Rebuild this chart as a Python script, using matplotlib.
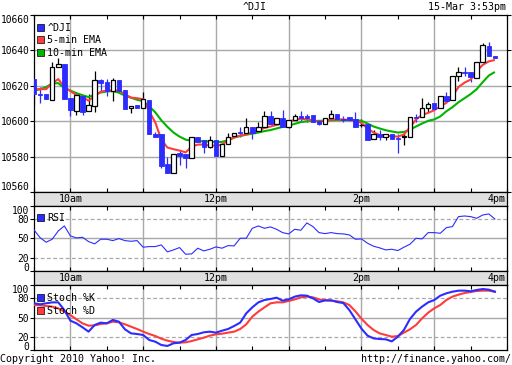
import matplotlib
matplotlib.use('Agg')
import matplotlib.pyplot as plt
from matplotlib.patches import Patch
import numpy as np

plt.rcParams['font.family'] = ['DejaVu Sans Mono', 'DejaVu Sans']
FS = 7.2
FS_Y = 6.9

# ---------------- data ----------------
n_candles = 77                       # 5-minute candles from 9:30
candle_minutes = np.arange(n_candles) * 5   # minutes after 9:30

opens = [10623.8, 10615.6, 10615.3, 10611.9, 10630.7, 10632.4, 10613.0, 10605.6, 10614.1, 10605.6,
         10608.4, 10623.2, 10622.1, 10617.0, 10623.2, 10617.5, 10607.3, 10609.0, 10607.3, 10611.9,
         10593.0, 10592.5, 10575.9, 10570.8, 10582.2, 10581.6, 10579.4, 10591.3, 10589.6, 10585.6,
         10589.6, 10580.5, 10587.3, 10591.9, 10593.7, 10593.6, 10596.5, 10594.2, 10597.0, 10602.7,
         10598.2, 10601.6, 10597.0, 10600.5, 10602.7, 10602.7, 10603.3, 10599.9, 10598.2, 10601.6,
         10603.9, 10601.0, 10602.2, 10601.0, 10597.6, 10598.2, 10590.2, 10593.0, 10591.3, 10593.0,
         10590.5, 10590.8, 10591.3, 10602.4, 10602.2, 10607.3, 10610.1, 10607.3, 10614.1, 10611.9,
         10625.5, 10627.8, 10627.8, 10624.4, 10633.5, 10642.6, 10636.6]
highs = [10623.8, 10619.3, 10615.3, 10633.5, 10635.8, 10632.4, 10613.0, 10616.4, 10614.1, 10615.3,
         10628.4, 10623.8, 10623.8, 10624.4, 10623.2, 10617.5, 10608.4, 10609.0, 10616.4, 10611.9,
         10594.0, 10592.5, 10579.9, 10581.6, 10583.9, 10581.6, 10591.3, 10591.3, 10589.6, 10591.9,
         10589.6, 10587.3, 10593.6, 10593.6, 10597.0, 10601.6, 10596.5, 10599.3, 10605.6, 10605.6,
         10601.6, 10606.2, 10600.5, 10603.9, 10605.6, 10603.9, 10603.3, 10599.9, 10601.6, 10606.2,
         10603.9, 10602.7, 10602.2, 10605.0, 10601.0, 10598.2, 10594.8, 10594.8, 10593.0, 10593.0,
         10593.0, 10593.6, 10602.2, 10603.9, 10613.0, 10610.7, 10610.1, 10614.1, 10616.4, 10625.5,
         10630.7, 10630.7, 10627.8, 10633.5, 10644.3, 10644.9, 10636.6]
lows = [10609.0, 10610.1, 10612.4, 10611.9, 10630.7, 10612.4, 10602.7, 10603.3, 10603.3, 10605.6,
        10605.0, 10616.4, 10614.1, 10611.3, 10617.0, 10606.7, 10604.4, 10607.3, 10607.3, 10592.5,
        10590.8, 10573.7, 10570.8, 10570.8, 10575.4, 10573.7, 10579.4, 10588.5, 10582.2, 10585.1,
        10580.5, 10580.1, 10587.3, 10591.9, 10591.3, 10593.6, 10590.2, 10594.2, 10597.0, 10598.2,
        10598.2, 10597.0, 10596.4, 10600.5, 10599.3, 10599.3, 10599.3, 10597.6, 10598.2, 10601.6,
        10601.0, 10599.3, 10600.5, 10597.0, 10597.0, 10589.1, 10590.2, 10589.1, 10589.1, 10590.2,
        10582.2, 10586.8, 10590.8, 10599.3, 10602.2, 10605.0, 10606.7, 10607.3, 10611.3, 10611.9,
        10622.7, 10625.5, 10622.1, 10624.4, 10633.5, 10636.9, 10635.8]
closes = [10615.3, 10614.7, 10612.4, 10630.7, 10632.4, 10612.4, 10606.2, 10614.7, 10605.0, 10609.0,
          10623.2, 10621.5, 10617.0, 10623.2, 10617.0, 10606.7, 10608.4, 10607.3, 10612.4, 10592.5,
          10591.3, 10574.8, 10570.8, 10581.6, 10580.5, 10579.4, 10591.3, 10588.5, 10585.6, 10589.6,
          10580.5, 10587.3, 10591.3, 10593.6, 10593.3, 10596.5, 10593.6, 10597.0, 10602.7, 10598.2,
          10601.6, 10597.0, 10600.5, 10602.7, 10601.9, 10602.0, 10599.3, 10598.7, 10601.6, 10603.9,
          10601.0, 10600.6, 10600.5, 10597.0, 10597.6, 10589.6, 10592.5, 10591.3, 10593.0, 10590.2,
          10589.9, 10591.9, 10602.2, 10601.9, 10607.3, 10609.6, 10606.7, 10614.1, 10611.3, 10625.5,
          10627.8, 10627.2, 10625.0, 10633.5, 10643.2, 10636.9, 10635.8]

ema5 = [10618.1, 10618.1, 10618.1, 10621.5, 10623.8, 10619.3, 10617.0, 10614.7, 10613.6, 10611.6,
        10614.1, 10616.7, 10617.3, 10617.5, 10617.3, 10615.3, 10613.3, 10613.0, 10612.4, 10605.6,
        10599.3, 10589.6, 10585.1, 10584.2, 10583.4, 10582.4, 10585.6, 10586.8, 10586.8, 10586.2,
        10586.2, 10586.8, 10589.1, 10590.8, 10591.9, 10592.5, 10593.8, 10594.8, 10596.2, 10597.0,
        10597.9, 10598.7, 10599.9, 10600.7, 10601.4, 10601.0, 10600.5, 10599.6, 10600.5, 10600.9,
        10601.0, 10601.0, 10600.6, 10600.2, 10599.0, 10595.9, 10593.6, 10592.2, 10591.9, 10591.5,
        10591.3, 10592.5, 10596.5, 10601.0, 10603.6, 10604.7, 10606.2, 10608.4, 10610.4, 10614.1,
        10619.3, 10621.8, 10623.5, 10628.4, 10631.8, 10633.8, 10634.6]
ema10 = [10617.2, 10618.1, 10619.3, 10621.3, 10621.5, 10618.7, 10617.3, 10615.8, 10614.7, 10613.6,
         10615.0, 10616.2, 10616.8, 10617.0, 10616.1, 10614.4, 10613.3, 10612.1, 10611.3, 10608.4,
         10605.0, 10600.5, 10596.8, 10593.6, 10591.3, 10589.6, 10588.9, 10588.7, 10588.7, 10588.5,
         10588.2, 10588.3, 10589.3, 10590.8, 10591.6, 10592.4, 10592.9, 10593.6, 10594.4, 10595.0,
         10595.9, 10596.8, 10597.6, 10598.5, 10599.5, 10599.9, 10600.1, 10600.2, 10600.3, 10600.5,
         10600.6, 10600.6, 10600.6, 10600.6, 10600.2, 10598.7, 10597.0, 10595.9, 10594.9, 10594.2,
         10593.6, 10593.9, 10595.3, 10597.0, 10598.7, 10600.2, 10601.0, 10602.7, 10605.6, 10607.9,
         10610.7, 10613.0, 10615.3, 10618.1, 10622.1, 10625.8, 10627.8]

rsi = [62.7, 51.0, 43.9, 48.5, 61.2, 68.8, 53.6, 50.5, 51.5, 44.9,
       41.4, 48.5, 48.5, 46.4, 49.5, 46.4, 45.4, 46.4, 36.3, 37.3,
       37.3, 39.8, 29.2, 32.2, 35.8, 25.6, 26.1, 34.8, 30.7, 33.2,
       36.8, 34.8, 38.8, 38.3, 50.0, 50.0, 65.2, 68.8, 65.2, 67.3,
       63.7, 58.6, 56.6, 63.7, 62.2, 73.4, 67.8, 58.6, 57.1, 58.6,
       57.1, 56.6, 55.1, 48.5, 49.0, 42.4, 37.8, 35.3, 32.2, 33.2,
       31.2, 36.3, 40.9, 50.0, 49.0, 58.6, 58.6, 57.6, 66.2, 67.8,
       83.0, 84.0, 83.0, 80.5, 85.5, 87.1, 79.4]

stoch_k = [71.8, 70.3, 71.8, 73.3, 73.3, 61.5, 45.1, 41.0, 34.9, 28.2,
           38.5, 42.1, 41.0, 46.2, 43.6, 31.8, 25.6, 24.6, 23.1, 15.4,
           12.8, 7.7, 6.2, 10.3, 11.3, 15.4, 23.1, 24.6, 27.2, 28.2,
           26.7, 29.7, 32.3, 36.9, 42.1, 56.4, 65.6, 73.3, 76.9, 78.5,
           80.5, 75.9, 77.9, 82.1, 84.1, 83.6, 79.5, 73.8, 76.4, 76.4,
           73.8, 72.3, 61.5, 47.2, 32.8, 22.1, 17.9, 16.9, 16.4, 13.3,
           20.5, 30.8, 47.7, 59.0, 66.7, 73.3, 76.9, 83.6, 87.2, 89.7,
           91.3, 91.3, 90.3, 92.3, 93.8, 92.8, 89.7]
stoch_d = [69.2, 68.7, 67.7, 66.7, 64.1, 59.0, 53.8, 47.2, 41.0, 37.4,
           37.9, 40.0, 41.0, 43.6, 42.6, 39.5, 35.9, 32.3, 28.2, 24.6,
           21.5, 17.4, 14.4, 12.3, 11.3, 11.8, 13.8, 16.4, 19.0, 22.1,
           24.1, 25.1, 26.7, 28.2, 32.3, 39.5, 51.3, 59.0, 65.6, 71.8,
           73.3, 73.3, 75.4, 77.9, 81.0, 82.1, 81.0, 77.9, 76.4, 75.9,
           74.9, 73.3, 69.2, 59.5, 48.2, 38.5, 30.8, 25.6, 23.1, 20.5,
           21.5, 26.7, 31.8, 38.5, 48.7, 57.4, 64.1, 69.2, 76.9, 82.1,
           85.1, 87.7, 89.2, 90.8, 91.3, 91.3, 89.7]

price_ticks = [10560, 10580, 10600, 10620, 10640, 10660]
osc_ticks = [0, 20, 50, 80, 100]
hour_ticks = [30, 90, 150, 210, 270, 330]          # 10am .. 3pm
time_labels = ['10am', '12pm', '2pm', '4pm']
time_label_pos = [30, 150, 270, 390]

# ---------------- style ----------------
BLUE = '#2c2cff'
RED = '#ff3c3c'
GREEN = '#00b400'
GRID = '#a8a8a8'
STRIP = '#e0e0e0'

W, H = 512, 365
fig = plt.figure(figsize=(W / 100, H / 100), dpi=100)
fig.patch.set_facecolor('white')


def box(x0, y0, x1, y1):
    return [x0 / W, 1 - y1 / H, (x1 - x0) / W, (y1 - y0) / H]


X0, X1 = 34, 507
ax = fig.add_axes(box(X0, 15, X1, 192))
strip1 = fig.add_axes(box(X0, 192, X1, 205.5))
ax_rsi = fig.add_axes(box(X0, 205.5, X1, 271))
strip2 = fig.add_axes(box(X0, 271, X1, 285))
ax_sto = fig.add_axes(box(X0, 285, X1, 350))

half_hours = list(range(0, 391, 30))

for a in (ax, ax_rsi, ax_sto):
    a.set_xlim(0, 390)
    a.set_xticks(half_hours)
    a.tick_params(axis='x', direction='in', length=3, width=0.8, top=True, bottom=True,
                  labelbottom=False, color='black')
    for t in hour_ticks:
        a.axvline(t, color=GRID, lw=1.0, zorder=0)
    for s in a.spines.values():
        s.set_color('black')
        s.set_linewidth(0.9)
    a.tick_params(axis='y', direction='out', length=3, width=0.8, labelsize=FS_Y, pad=0.5)

for s_ax in (strip1, strip2):
    s_ax.set_facecolor(STRIP)
    s_ax.set_xlim(0, 390)
    s_ax.set_ylim(0, 1)
    s_ax.set_xticks([])
    s_ax.set_yticks([])
    for s in s_ax.spines.values():
        s.set_color('black')
        s.set_linewidth(0.9)
    for lab, pos in zip(time_labels, time_label_pos):
        if pos >= 390:
            s_ax.text(389, 0.48, lab, ha='right', va='center', fontsize=FS)
        else:
            s_ax.text(pos, 0.48, lab, ha='center', va='center', fontsize=FS)

# ---------------- main price panel ----------------
ax.set_ylim(10560, 10660)
ax.set_yticks(price_ticks)
ax.set_yticklabels([str(v) for v in price_ticks])
ax.tick_params(axis='y', right=True)
for v in price_ticks[1:-1]:
    ax.axhline(v, color=GRID, lw=1.0, zorder=0)

o = np.array(opens); h = np.array(highs); l = np.array(lows); c = np.array(closes)
up = c >= o
down = ~up
bw = 3.7
ax.vlines(candle_minutes[up], l[up], h[up], color='black', lw=0.9, zorder=2)
ax.vlines(candle_minutes[down], l[down], h[down], color=BLUE, lw=0.9, zorder=2)
ax.plot(candle_minutes, ema10, color=GREEN, lw=1.5, zorder=3, solid_capstyle='butt')
ax.plot(candle_minutes, ema5, color=RED, lw=1.5, zorder=3, solid_capstyle='butt')
ax.bar(candle_minutes[up], c[up] - o[up], bottom=o[up], width=bw, facecolor='white',
       edgecolor='black', linewidth=0.9, zorder=4)
ax.bar(candle_minutes[down], o[down] - c[down], bottom=c[down], width=bw, facecolor=BLUE,
       edgecolor=BLUE, linewidth=0.6, zorder=4)

leg_kw = dict(frameon=False, fontsize=FS, handlelength=0.7, handleheight=0.7,
              handletextpad=0.35, borderaxespad=0, borderpad=0, loc='upper left')
ax.legend(handles=[Patch(facecolor=BLUE, edgecolor='black', lw=0.5, label='^DJI'),
                   Patch(facecolor=RED, edgecolor='black', lw=0.5, label='5-min EMA'),
                   Patch(facecolor=GREEN, edgecolor='black', lw=0.5, label='10-min EMA')],
          bbox_to_anchor=(0.006, 0.955), labelspacing=0.25, **leg_kw)

# ---------------- RSI ----------------
ax_rsi.set_ylim(0, 100)
ax_rsi.set_yticks(osc_ticks)
ax_rsi.set_yticklabels([str(v) for v in osc_ticks])
ax_rsi.axhline(50, color=GRID, lw=1.0, zorder=0)
for v in (20, 80):
    ax_rsi.axhline(v, color=GRID, lw=0.9, dashes=(3, 2), zorder=0)
ax_rsi.plot(candle_minutes, rsi, color=BLUE, lw=0.8, zorder=3)
ax_rsi.legend(handles=[Patch(facecolor=BLUE, edgecolor='black', lw=0.5, label='RSI')],
              bbox_to_anchor=(0.006, 0.89), **leg_kw)

# ---------------- Stochastics ----------------
ax_sto.set_ylim(0, 100)
ax_sto.set_yticks(osc_ticks)
ax_sto.set_yticklabels([str(v) for v in osc_ticks])
ax_sto.axhline(50, color=GRID, lw=1.0, zorder=0)
for v in (20, 80):
    ax_sto.axhline(v, color=GRID, lw=0.9, dashes=(3, 2), zorder=0)
ax_sto.plot(candle_minutes, stoch_d, color=RED, lw=1.5, zorder=3)
ax_sto.plot(candle_minutes, stoch_k, color=BLUE, lw=1.5, zorder=4)
ax_sto.legend(handles=[Patch(facecolor=BLUE, edgecolor='black', lw=0.5, label='Stoch %K'),
                       Patch(facecolor=RED, edgecolor='black', lw=0.5, label='Stoch %D')],
              bbox_to_anchor=(0.006, 0.88), labelspacing=0.3, **leg_kw)

# edge tick labels nudged inside like the reference
labs = ax.get_yticklabels()
labs[0].set_va('bottom')
labs[-1].set_va('top')
for a in (ax_rsi, ax_sto):
    labs = a.get_yticklabels()
    labs[0].set_va('baseline')
    labs[-1].set_va('top')

# ---------------- texts ----------------
fig.text(255 / W, 1 - 7 / H, '^DJI', ha='center', va='center', fontsize=FS)
fig.text(506 / W, 1 - 7 / H, '15-Mar 3:53pm', ha='right', va='center', fontsize=FS)
fig.text(0.5 / W, 1 - 359 / H, 'Copyright 2010 Yahoo! Inc.', ha='left', va='center', fontsize=FS)
fig.text(511.5 / W, 1 - 359 / H, 'http://finance.yahoo.com/', ha='right', va='center', fontsize=FS)

fig.savefig('out.png', dpi=100)
